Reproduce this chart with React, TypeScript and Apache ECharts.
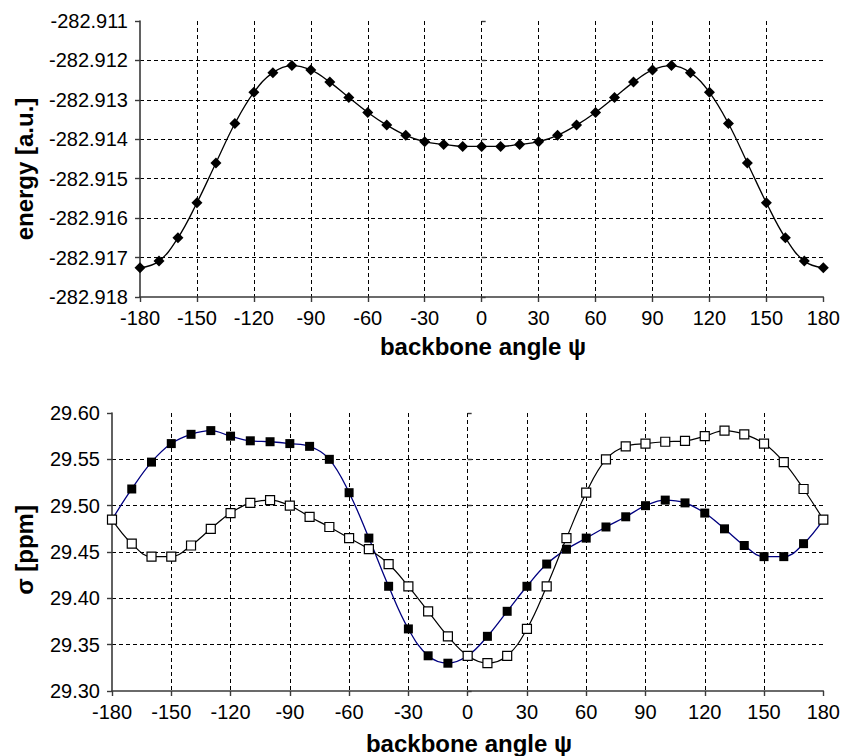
import React, { useEffect, useRef } from "react";
import * as echarts from "echarts";

const angles = [
  -180, -170, -160, -150, -140, -130, -120, -110, -100, -90, -80, -70, -60, -50, -40, -30, -20, -10, 0,
  10, 20, 30, 40, 50, 60, 70, 80, 90, 100, 110, 120, 130, 140, 150, 160, 170, 180,
];

const energy = [
  -282.91726, -282.91709, -282.9165, -282.91561, -282.9146, -282.9136, -282.91281, -282.91231, -282.91213,
  -282.91224, -282.91255, -282.91294, -282.91332, -282.91364, -282.9139, -282.91406, -282.91413, -282.91418,
  -282.91418, -282.91418, -282.91413, -282.91406, -282.9139, -282.91364, -282.91332, -282.91294, -282.91255,
  -282.91224, -282.91213, -282.91231, -282.91281, -282.9136, -282.9146, -282.91561, -282.9165, -282.91709,
  -282.91726,
];

const sigmaFilled = [
  29.485, 29.518, 29.547, 29.567, 29.577, 29.581, 29.575, 29.57, 29.569, 29.567, 29.564, 29.55, 29.514,
  29.465, 29.413, 29.367, 29.338, 29.33, 29.338, 29.359, 29.386, 29.413, 29.437, 29.453, 29.465, 29.477,
  29.488, 29.5, 29.506, 29.503, 29.492, 29.475, 29.457, 29.445, 29.445, 29.459, 29.485,
];

const sigmaOpen = [
  29.485, 29.459, 29.445, 29.445, 29.457, 29.475, 29.492, 29.503, 29.506, 29.5, 29.488, 29.477, 29.465,
  29.453, 29.437, 29.413, 29.386, 29.359, 29.338, 29.33, 29.338, 29.367, 29.413, 29.465, 29.514, 29.55,
  29.564, 29.567, 29.569, 29.57, 29.575, 29.581, 29.577, 29.567, 29.547, 29.518, 29.485,
];

const xTitle = "backbone angle ψ";
const yTitleTop = "energy [a.u.]";
const yTitleBottom = "σ [ppm]";

const FONT = "'Liberation Sans', Arial, Helvetica, sans-serif";

export default function App() {
  const ref = useRef<HTMLDivElement>(null);

  useEffect(() => {
    if (!ref.current) return;
    const chart = echarts.init(ref.current, undefined, { renderer: "svg" });

    const axisLine = { show: true, onZero: false, lineStyle: { color: "#3a3a3a", width: 1.6 } };
    const label = { color: "#000", fontSize: 20, fontFamily: FONT, margin: 11 };
    const grid = { show: true, type: [4, 3], color: "#000", width: 1 };

    const xAxisBase = (gi: number) => ({
      gridIndex: gi,
      type: "value",
      min: -180,
      max: 180,
      interval: 30,
      axisLine,
      axisTick: { show: true, length: 5, lineStyle: { color: "#3a3a3a", width: 1.4 } },
      axisLabel: label,
      splitLine: { show: true, showMinLine: false, showMaxLine: false, lineStyle: grid },
    });

    const yAxisPair = (gi: number, min: number, max: number, interval: number, digits: number) => [
      {
        gridIndex: gi,
        type: "value",
        position: "left",
        min,
        max,
        interval,
        axisLine,
        axisTick: { show: true, length: 5, lineStyle: { color: "#3a3a3a", width: 1.4 } },
        axisLabel: { ...label, margin: 12, formatter: (v: number) => v.toFixed(digits) },
        splitLine: { show: true, showMinLine: false, showMaxLine: false, lineStyle: grid },
      },
      {
        gridIndex: gi,
        type: "value",
        position: "left",
        min,
        max,
        interval,
        axisLine: { show: false },
        axisTick: { show: true, inside: true, length: 4, lineStyle: { color: "#3a3a3a", width: 1.4 } },
        axisLabel: { show: false },
        splitLine: { show: false },
      },
    ];

    const titleStyle = { fontSize: 24, fontWeight: "bold", fontFamily: FONT, fill: "#000" };

    chart.setOption({
      animation: false,
      backgroundColor: "#fff",
      grid: [
        { left: 140, top: 21, width: 685, height: 276 },
        { left: 112, top: 413, width: 714, height: 278 },
      ],
      xAxis: [xAxisBase(0), xAxisBase(1)],
      yAxis: [
        ...yAxisPair(0, -282.918, -282.911, 0.001, 3),
        ...yAxisPair(1, 29.3, 29.6, 0.05, 2),
      ],
      series: [
        {
          type: "line",
          xAxisIndex: 0,
          yAxisIndex: 0,
          data: angles.map((a, i) => [a, energy[i]]),
          smooth: 0.4,
          symbol: "diamond",
          symbolSize: 11,
          itemStyle: { color: "#000" },
          lineStyle: { color: "#000", width: 1.3 },
        },
        {
          type: "line",
          xAxisIndex: 1,
          yAxisIndex: 2,
          data: angles.map((a, i) => [a, sigmaFilled[i]]),
          smooth: 0.4,
          symbol: "rect",
          symbolSize: 9,
          itemStyle: { color: "#000" },
          lineStyle: { color: "#000080", width: 1.3 },
        },
        {
          type: "line",
          xAxisIndex: 1,
          yAxisIndex: 2,
          data: angles.map((a, i) => [a, sigmaOpen[i]]),
          smooth: 0.4,
          symbol: "rect",
          symbolSize: 9,
          itemStyle: { color: "#fff", borderColor: "#000", borderWidth: 1.2 },
          lineStyle: { color: "#000", width: 1.2 },
        },
      ],
      graphic: [
        {
          type: "text",
          x: 483,
          y: 346,
          style: { ...titleStyle, text: xTitle, textAlign: "center", textVerticalAlign: "middle" },
        },
        {
          type: "text",
          x: 469,
          y: 743,
          style: { ...titleStyle, text: xTitle, textAlign: "center", textVerticalAlign: "middle" },
        },
        {
          type: "text",
          x: 24,
          y: 169,
          rotation: Math.PI / 2,
          style: { ...titleStyle, text: yTitleTop, textAlign: "center", textVerticalAlign: "middle" },
        },
        {
          type: "text",
          x: 24,
          y: 550,
          rotation: Math.PI / 2,
          style: { ...titleStyle, text: yTitleBottom, textAlign: "center", textVerticalAlign: "middle" },
        },
      ],
    });

    return () => chart.dispose();
  }, []);

  return (
    <div
      ref={ref}
      style={{ position: "absolute", left: 0, top: 0, width: 843, height: 756, background: "#fff" }}
    />
  );
}
